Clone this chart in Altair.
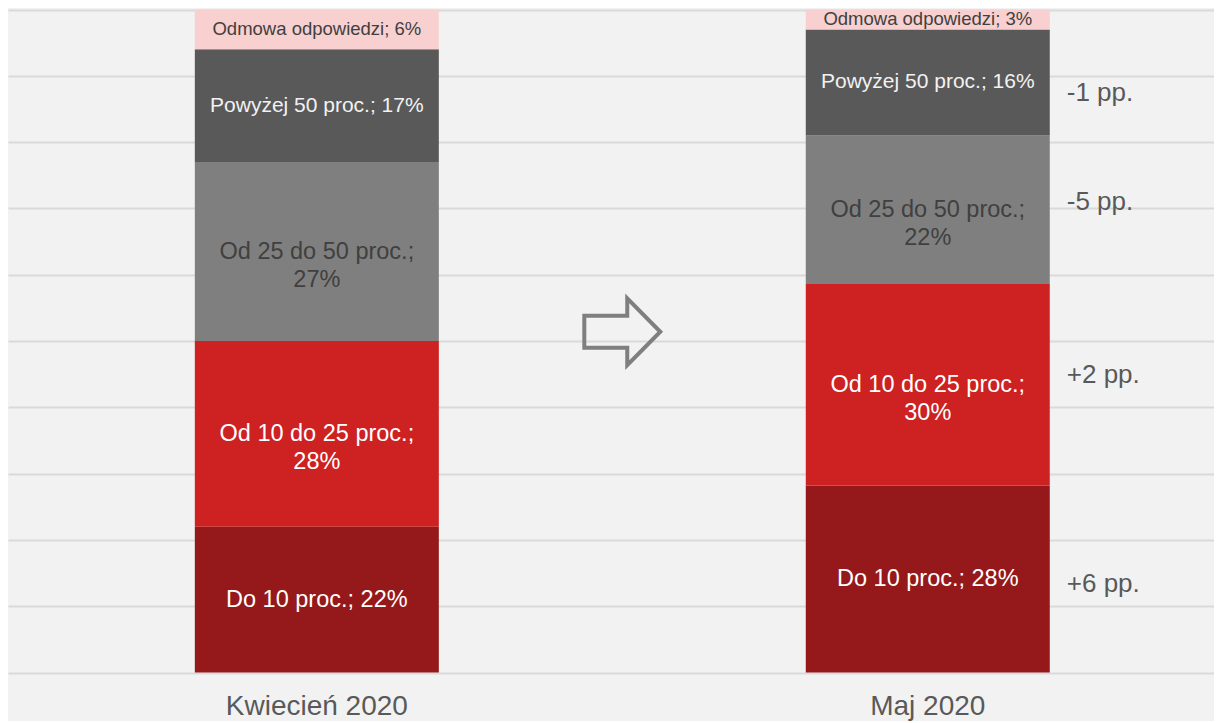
import altair as alt
import pandas as pd

# ---- data ----
periods = ["Kwiecień 2020", "Maj 2020"]
segments = ["Do 10 proc.", "Od 10 do 25 proc.", "Od 25 do 50 proc.",
            "Powyżej 50 proc.", "Odmowa odpowiedzi"]          # bottom -> top
april = [22.0, 28.0, 27.0, 17.0, 6.0]
may = [28.2, 30.4, 22.4, 16.0, 3.0]
changes = ["+6 pp.", "+2 pp.", "-5 pp.", "-1 pp."]             # bottom -> top
change_y = [13.3, 44.9, 70.9, 87.4]
arrow_y = [51.4]
xlabel_y = [-5.2]

seg_colors = ["#95191a", "#cd2122", "#7f7f7f", "#595959", "#f8d0d0"]
FONT = "Liberation Sans"

rows = []
for period, vals in zip(periods, [april, may]):
    base = 0.0
    for seg, v in zip(segments, vals):
        pct = int(round(v))
        label = f"{seg};\n{pct}%" if seg.startswith("Od ") else f"{seg}; {pct}%"
        rows.append(dict(period=period, segment=seg, value=v, y0=base,
                         y1=base + v, mid=base + v / 2, label=label))
        base += v
df = pd.DataFrame(rows)

ann = pd.DataFrame({"period": ["Maj 2020"] * len(changes), "y": change_y, "text": changes})
xl = pd.DataFrame({"period": periods, "y": xlabel_y * len(periods)})
arr = pd.DataFrame({"period": ["arrow"], "y": arrow_y})

xscale = alt.Scale(type="point", domain=[periods[0], "arrow", periods[1]],
                   padding=0.974, align=0.519)
yscale = alt.Scale(domain=[-6.41, 100.23], nice=False, zero=False)
X = alt.X("period:N", scale=xscale, axis=None)

bars = alt.Chart(df).mark_bar(size=244).encode(
    x=X,
    y=alt.Y("y0:Q", scale=yscale,
            axis=alt.Axis(values=list(range(0, 101, 10)), grid=True, labels=False,
                          ticks=False, domain=False, title=None,
                          gridColor="#d9d9d9", gridWidth=2)),
    y2="y1:Q",
    color=alt.Color("segment:N", scale=alt.Scale(domain=segments, range=seg_colors), legend=None),
)

def seg_text(segs, size, color):
    return alt.Chart(df).transform_filter(
        alt.FieldOneOfPredicate(field="segment", oneOf=segs)
    ).mark_text(fontSize=size, color=color, font=FONT, lineBreak="\n",
                lineHeight=28, baseline="middle", align="center").encode(
        x=X, y=alt.Y("mid:Q", scale=yscale), text="label:N")

t_light = seg_text(["Do 10 proc.", "Od 10 do 25 proc."], 23.5, "#ffffff")
t_pow = seg_text(["Powyżej 50 proc."], 21, "#f2f2f2")
t_dark = seg_text(["Od 25 do 50 proc."], 23.5, "#404040")
t_odm = seg_text(["Odmowa odpowiedzi"], 18.5, "#404040")

annotations = alt.Chart(ann).mark_text(
    align="left", dx=139, fontSize=26, color="#595959", font=FONT, baseline="middle"
).encode(x=X, y=alt.Y("y:Q", scale=yscale), text="text:N")

xlabels = alt.Chart(xl).mark_text(
    fontSize=28, color="#595959", font=FONT, baseline="middle", align="center"
).encode(x=X, y=alt.Y("y:Q", scale=yscale), text="period:N")

arrow_path = "M -1 -0.42 L 0.13 -0.42 L 0.13 -0.88 L 1 0 L 0.13 0.88 L 0.13 0.42 L -1 0.42 Z"
arrow = alt.Chart(arr).mark_point(
    shape=arrow_path, size=5776, filled=False, stroke="#7f7f7f", strokeWidth=4, opacity=1
).encode(x=X, y=alt.Y("y:Q", scale=yscale))

chart = alt.layer(bars, t_light, t_pow, t_dark, t_odm, annotations, xlabels, arrow).properties(
    width=1206, height=707, padding=0, background="#f2f2f2"
).configure_view(stroke=None)

chart.save("out.html", embed_options={"renderer": "svg", "actions": False})
